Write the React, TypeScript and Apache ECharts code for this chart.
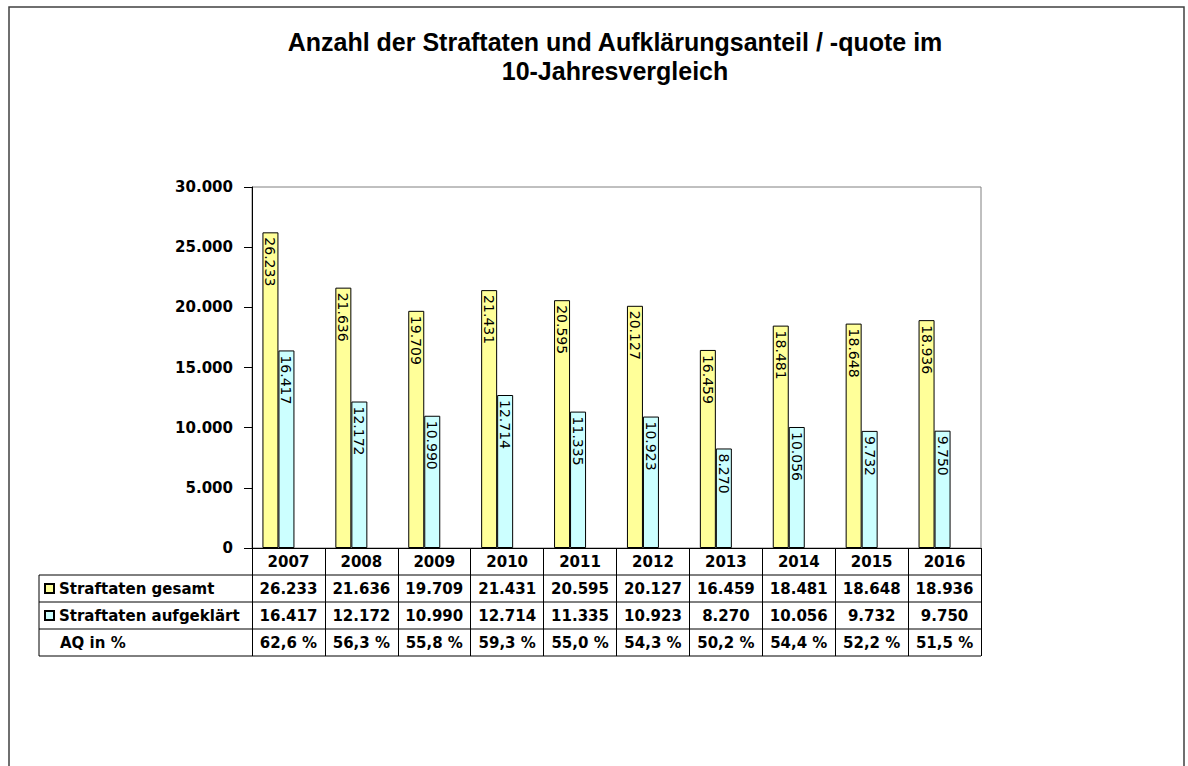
import React, { useEffect, useRef } from "react";
import * as echarts from "echarts";

const years = ["2007", "2008", "2009", "2010", "2011", "2012", "2013", "2014", "2015", "2016"];
const totalCrimes = [26233, 21636, 19709, 21431, 20595, 20127, 16459, 18481, 18648, 18936];
const solvedCrimes = [16417, 12172, 10990, 12714, 11335, 10923, 8270, 10056, 9732, 9750];
const clearanceRate = [62.6, 56.3, 55.8, 59.3, 55.0, 54.3, 50.2, 54.4, 52.2, 51.5];

const seriesNames = ["Straftaten gesamt", "Straftaten aufgeklärt"];
const rateLabel = "AQ in %";
const titleText = "Anzahl der Straftaten und Aufklärungsanteil / -quote im\n10-Jahresvergleich";

const de = (n: number): string =>
  Math.round(n).toString().replace(/\B(?=(\d{3})+(?!\d))/g, ".");
const pct = (n: number): string => n.toFixed(1).replace(".", ",") + " %";

const TABLE_FONT = "DejaVu Sans";
const ROW = 27;

export default function App() {
  const ref = useRef<HTMLDivElement>(null);
  useEffect(() => {
    if (!ref.current) return;
    const chart = echarts.init(ref.current, undefined, { renderer: "svg" });
    const gridLeft = 252;
    const gridRight = 981;
    const gridTop = 187;
    const gridBottom = 548;
    const tableLeft = 39;

    const rowAxis = (offset: number, values: string[]) => ({
      type: "category",
      gridIndex: 0,
      position: "bottom",
      offset,
      data: years,
      axisLine: { show: false },
      axisTick: { show: false },
      splitLine: { show: false },
      axisLabel: {
        interval: 0,
        margin: 6,
        color: "#000",
        fontFamily: TABLE_FONT,
        fontWeight: "bold",
        fontSize: 15,
        formatter: (_v: string, i: number) => values[i],
      },
    });

    const hLine = (y: number, x1: number) => ({
      type: "line",
      shape: { x1, y1: y, x2: gridRight, y2: y },
      style: { stroke: "#000", lineWidth: 1 },
      z: 10,
    });

    const barLabel = {
      show: true,
      position: "insideTop",
      rotate: -90,
      align: "left",
      verticalAlign: "middle",
      distance: 5,
      color: "#000",
      fontFamily: "DejaVu Sans",
      fontSize: 14,
      formatter: (p: any) => de(p.value),
    };

    chart.setOption({
      animation: false,
      backgroundColor: "#fff",
      title: {
        text: titleText,
        left: 615,
        top: 27,
        padding: 0,
        textAlign: "center",
        textStyle: {
          fontFamily: "Liberation Sans, Arial",
          fontWeight: "bold",
          fontSize: 25,
          lineHeight: 29,
          color: "#000",
        },
      },
      legend: {
        data: seriesNames,
        orient: "vertical",
        left: 44,
        top: 581,
        padding: 0,
        itemWidth: 9,
        itemHeight: 9,
        itemGap: 12,
        icon: "rect",
        textStyle: {
          fontFamily: TABLE_FONT,
          fontWeight: "bold",
          fontSize: 15,
          color: "#000",
        },
      },
      grid: {
        left: gridLeft,
        right: 1188 - gridRight,
        top: gridTop,
        bottom: 766 - gridBottom,
        show: true,
        borderColor: "#808080",
        borderWidth: 1,
        backgroundColor: "transparent",
      },
      xAxis: [
        {
          type: "category",
          gridIndex: 0,
          position: "bottom",
          data: years,
          axisLine: { show: true, lineStyle: { color: "#000", width: 1 } },
          axisTick: {
            show: true,
            interval: 0,
            length: ROW * 4,
            lineStyle: { color: "#000", width: 1 },
          },
          axisLabel: {
            interval: 0,
            margin: 6,
            color: "#000",
            fontFamily: TABLE_FONT,
            fontWeight: "bold",
            fontSize: 15,
          },
          splitLine: { show: false },
        },
        rowAxis(ROW, totalCrimes.map(de)),
        rowAxis(ROW * 2, solvedCrimes.map(de)),
        rowAxis(ROW * 3, clearanceRate.map(pct)),
      ],
      yAxis: {
        type: "value",
        min: 0,
        max: 30000,
        interval: 5000,
        axisLine: { show: true, lineStyle: { color: "#000", width: 1 } },
        axisTick: { show: true, length: 8, lineStyle: { color: "#000" } },
        splitLine: { show: false },
        axisLabel: {
          margin: 19,
          color: "#000",
          fontFamily: TABLE_FONT,
          fontWeight: "bold",
          fontSize: 15,
          formatter: (v: number) => de(v),
        },
      },
      series: [
        {
          name: seriesNames[0],
          type: "bar",
          xAxisIndex: 0,
          data: totalCrimes,
          barWidth: 16,
          barGap: "0%",
          itemStyle: { color: "#FFFF99", borderColor: "#000", borderWidth: 1 },
          label: barLabel,
        },
        {
          name: seriesNames[1],
          type: "bar",
          xAxisIndex: 0,
          data: solvedCrimes,
          barWidth: 16,
          barGap: "0%",
          itemStyle: { color: "#CCFFFF", borderColor: "#000", borderWidth: 1 },
          label: barLabel,
        },
        {
          name: "",
          type: "bar",
          xAxisIndex: 0,
          data: [],
          barWidth: 20,
          barGap: "0%",
          silent: true,
          itemStyle: { color: "transparent" },
        },
      ],
      graphic: [
        {
          type: "rect",
          shape: { x: 9, y: 7, width: 1175, height: 800 },
          style: { fill: "none", stroke: "#404040", lineWidth: 1.5 },
          z: 0,
          silent: true,
        },
        hLine(gridBottom + ROW, tableLeft),
        hLine(gridBottom + ROW * 2, tableLeft),
        hLine(gridBottom + ROW * 3, tableLeft),
        hLine(gridBottom + ROW * 4, tableLeft),
        {
          type: "line",
          shape: { x1: tableLeft, y1: gridBottom + ROW, x2: tableLeft, y2: gridBottom + ROW * 4 },
          style: { stroke: "#000", lineWidth: 1 },
          z: 10,
        },
        {
          type: "text",
          x: 60,
          y: gridBottom + ROW * 3 + ROW / 2,
          style: {
            text: rateLabel,
            fontFamily: TABLE_FONT,
            fontWeight: "bold",
            fontSize: 15,
            fill: "#000",
            verticalAlign: "middle",
          },
          z: 10,
        },
      ],
    });
    return () => chart.dispose();
  }, []);
  return (
    <div
      ref={ref}
      style={{ position: "absolute", left: 0, top: 0, width: 1188, height: 766, background: "#fff" }}
    />
  );
}
